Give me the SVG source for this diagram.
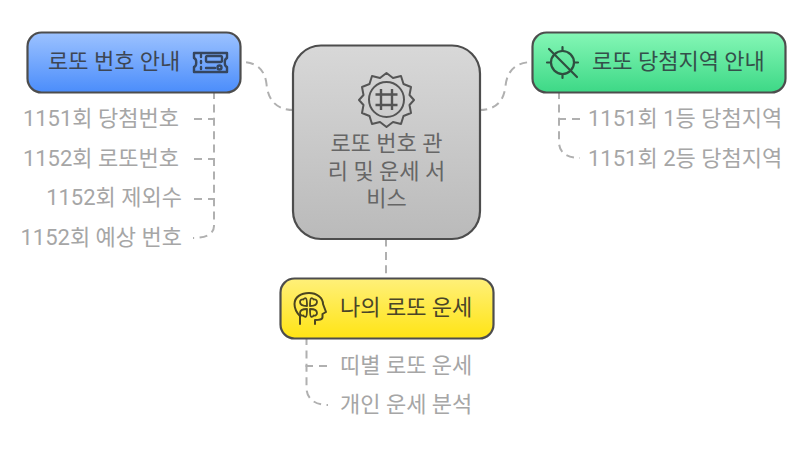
<svg xmlns="http://www.w3.org/2000/svg" width="800" height="450" viewBox="0 0 800 450">
<style>
text{font-family:"Roboto","Noto Sans CJK KR",sans-serif;font-size:22px}
.t{fill:#3d4654}
.c{fill:#a6a6a6}
.m{fill:#666}
.n{stroke:#4d4d4d;stroke-width:2.2}
.l{fill:none;stroke:#b0b0b0;stroke-width:2;stroke-dasharray:8 5.4}
.s{fill:none;stroke:#b0b0b0;stroke-width:2}
.i{fill:none;stroke:#35465f;stroke-width:2.400;stroke-linecap:round;stroke-linejoin:round}
</style>
<defs>
<linearGradient id="gb" x1="0" y1="0" x2="0" y2="1"><stop offset="0" stop-color="#9cc2ff"/><stop offset="1" stop-color="#4b8dfb"/></linearGradient>
<linearGradient id="gg" x1="0" y1="0" x2="0" y2="1"><stop offset="0" stop-color="#85f7b6"/><stop offset="1" stop-color="#3dd886"/></linearGradient>
<linearGradient id="gy" x1="0" y1="0" x2="0" y2="1"><stop offset="0" stop-color="#fff07a"/><stop offset="1" stop-color="#ffe414"/></linearGradient>
<linearGradient id="gc" x1="0" y1="0" x2="0" y2="1"><stop offset="0" stop-color="#d8d8d8"/><stop offset="1" stop-color="#bababa"/></linearGradient>
</defs>
<g id="connectors">
<path class="l" d="M294 110Q269 110 266.500 84Q264 62 241 62"/>
<path class="l" d="M479 110Q503 110 505.500 86Q508 62 533 62"/>
<path class="l" d="M386 238.500V279"/>
<path class="l" d="M214 91V226C214 234 206 238 193 238"/>
<path class="s" d="M194 119H202M208 119H215M194 159H202M208 159H215M194 199H202M208 199H215"/>
<path class="l" d="M559 91V142C559 152 566 158 580 158"/>
<path class="s" d="M558 119H566M572 119H580"/>
<path class="l" d="M306.500 337V388C306.500 398 314 405 328 405"/>
<path class="s" d="M305.500 366H313M319 366H327"/>
</g>
<g id="node-center">
<rect class="n" x="293" y="45.500" width="187" height="193.500" rx="28" fill="url(#gc)"/>
<g fill="none" stroke="#555" stroke-width="2" stroke-linejoin="round">
<path d="M386.500 73L393 78 401 76 403.500 84 411 87 409.500 95 414 100 409.500 105 411 113 403.500 116 401 124 393 122 386.500 127 380 122 372 124 369.500 116 362 113 363.500 105 359 100 363.500 95 362 87 369.500 84 372 76 380 78Z"/>
<circle cx="386.500" cy="99.500" r="17.500"/>
<path d="M381 89V110M392 89V110M375.500 94.500H397.500M375.500 105H397.500" stroke-width="2.400"/>
</g>
<text class="m" x="386.500" y="151" text-anchor="middle">로또 번호 관</text>
<text class="m" x="386.500" y="178.500" text-anchor="middle">리 및 운세 서</text>
<text class="m" x="386.500" y="206" text-anchor="middle">비스</text>
</g>
<g id="node-blue">
<rect class="n" x="27.500" y="32.500" width="213" height="60" rx="14" fill="url(#gb)"/>
<text class="t" x="48" y="69">로또 번호 안내</text>
<g class="i">
<path d="M194 53H227V58C224 59 224 66 227 67V72H194V67C197 66 197 59 194 58Z"/>
<path d="M201 55V57M201 61V63M201 67V69"/>
<rect x="206" y="56" width="16" height="6" rx="1.500"/>
<path d="M206 68H215"/>
<circle cx="219.500" cy="67.500" r="2"/>
</g>
</g>
<g id="node-green">
<rect class="n" x="532.500" y="32.500" width="253" height="60" rx="14" fill="url(#gg)"/>
<text class="t" x="592" y="69" style="fill:#34504a">로또 당첨지역 안내</text>
<g fill="none" stroke="#2f4f40" stroke-width="2.200" stroke-linecap="round">
<circle cx="562.500" cy="62.500" r="11.500"/>
<path d="M562.500 47V51M562.500 74V78M547 62.500H551M574 62.500H578M549 49L577 77"/>
</g>
</g>
<g id="node-yellow">
<rect class="n" x="280.500" y="278.500" width="213" height="60" rx="14" fill="url(#gy)"/>
<text class="t" x="340" y="315" style="fill:#4a4528">나의 로또 운세</text>
<g fill="none" stroke="#4a4420" stroke-width="2" stroke-linecap="round" stroke-linejoin="round">
<path d="M300 324V316C296 312 294.500 308 294.500 304 294.500 297 301 293 309 293 317 293 323 298 323 304L326 312 322.500 314V317C322.500 320 319 320 315 320V324"/>
<path d="M307 306C302 306 300 304 300 302 300 300 302 299 303.500 299.500 304 298 305.500 298 306 298.500 307 299 307 302 307 306ZM310 306C315 306 317 304 317 302 317 300 315 299 313.500 299.500 313 298 311.500 298 311 298.500 310 299 310 302 310 306ZM307 309C302 309 300 311 300 313 300 315 302 316 303.500 315.500 304 317 305.500 317 306 316.500 307 316 307 313 307 309ZM310 309C315 309 317 311 317 313 317 315 315 316 313.500 315.500 313 317 311.500 317 311 316.500 310 316 310 313 310 309Z" stroke-width="1.800"/>
</g>
</g>
<g id="items-blue">
<text class="c" x="179" y="126" text-anchor="end">1151회 당첨번호</text>
<text class="c" x="179" y="165.500" text-anchor="end">1152회 로또번호</text>
<text class="c" x="182" y="205" text-anchor="end">1152회 제외수</text>
<text class="c" x="182" y="245" text-anchor="end">1152회 예상 번호</text>
</g>
<g id="items-green">
<text class="c" x="588" y="126">1151회 1등 당첨지역</text>
<text class="c" x="588" y="165.500">1151회 2등 당첨지역</text>
</g>
<g id="items-yellow">
<text class="c" x="340" y="372.500">띠별 로또 운세</text>
<text class="c" x="340" y="412">개인 운세 분석</text>
</g>
</svg>
